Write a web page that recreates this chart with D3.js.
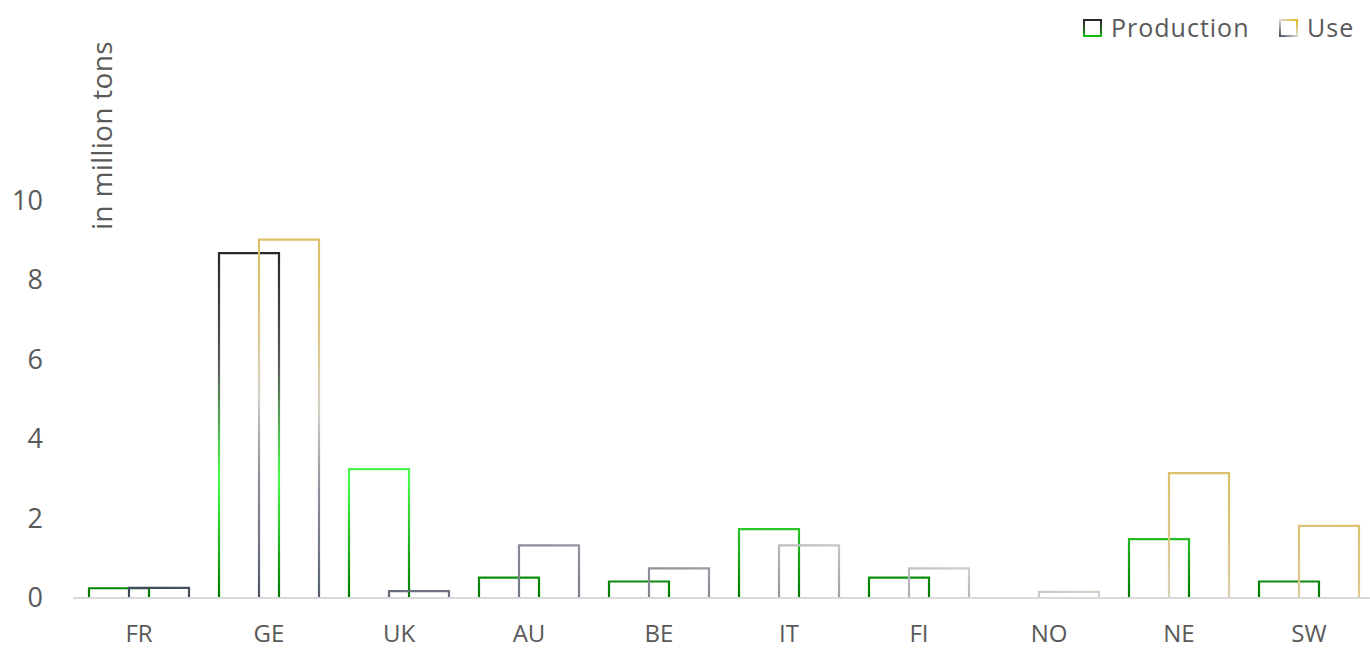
<!DOCTYPE html>
<html>
<head>
<meta charset="utf-8">
<script src="https://cdn.jsdelivr.net/npm/d3@7"></script>
<style>
  body { margin: 0; background: #fff; }
  svg { display: block; font-family: 'Open Sans', sans-serif; }
</style>
</head>
<body>
<svg id="chart" width="1370" height="650"></svg>
<script>
// data
const countries = ['FR', 'GE', 'UK', 'AU', 'BE', 'IT', 'FI', 'NO', 'NE', 'SW'];
const production = [0.22, 8.66, 3.22, 0.49, 0.39, 1.71, 0.49, 0, 1.46, 0.39];
const use = [0.23, 9.0, 0.15, 1.3, 0.72, 1.3, 0.72, 0.13, 3.12, 1.79];
const yTicks = [0, 2, 4, 6, 8, 10];

const textColor = '#595959';
const svg = d3.select('#chart');

const x = d3.scaleBand().domain(countries).range([75, 1375]);
const y = d3.scaleLinear().domain([0, 10]).range([597, 200]);
const barW = 60, shift = 40;

// gradients (Excel style gradient lines)
const defs = svg.append('defs');
const prodGrad = defs.append('linearGradient')
  .attr('id', 'prodGrad').attr('gradientUnits', 'userSpaceOnUse')
  .attr('x1', 0).attr('x2', 0).attr('y1', y(0)).attr('y2', y(8.8));
[[0, '#007a00'], [0.34, '#4cff4c'], [0.5, '#56a856'], [0.66, '#5c5c5c'], [1, '#262626']]
  .forEach(s => prodGrad.append('stop').attr('offset', s[0]).attr('stop-color', s[1]));

const useGrad = defs.append('linearGradient')
  .attr('id', 'useGrad').attr('gradientUnits', 'userSpaceOnUse')
  .attr('x1', 160).attr('y1', 592).attr('x2', 242).attr('y2', 248);
[[0, '#3f4a5a'], [0.17, '#6a7080'], [0.38, '#8c9099'], [0.56, '#c2c2c2'], [0.6, '#d4d1c9'], [0.68, '#d8cfb2'], [0.78, '#dcc88e'], [1, '#dcc06a']]
  .forEach(s => useGrad.append('stop').attr('offset', s[0]).attr('stop-color', s[1]));

const legProd = defs.append('linearGradient').attr('id', 'legProd').attr('x1', 0).attr('x2', 0).attr('y1', 1).attr('y2', 0);
[[0, '#10c010'], [0.3, '#207020'], [1, '#262626']]
  .forEach(s => legProd.append('stop').attr('offset', s[0]).attr('stop-color', s[1]));
const legUse = defs.append('linearGradient').attr('id', 'legUse').attr('x1', 0).attr('x2', 1).attr('y1', 1).attr('y2', 0);
[[0, '#4a5566'], [0.5, '#d8d8d8'], [1, '#e8b820']]
  .forEach(s => legUse.append('stop').attr('offset', s[0]).attr('stop-color', s[1]));

// y tick labels
svg.append('g').selectAll('text').data(yTicks).join('text')
  .attr('x', 43).attr('y', d => y(d) + 10)
  .attr('text-anchor', 'end')
  .attr('font-size', 27).attr('fill', textColor)
  .text(d => d);

// y title
svg.append('text')
  .attr('transform', `translate(112, 230) rotate(-90)`)
  .attr('font-size', 28).attr('fill', textColor)
  .attr('letter-spacing', 0.3)
  .text('in million tons');

// x axis line
svg.append('line')
  .attr('x1', 73).attr('x2', 1370)
  .attr('y1', y(0) + 1).attr('y2', y(0) + 1)
  .attr('stroke', '#d9d9d9').attr('stroke-width', 2);

// bars: open outlines, bottom edge hidden under axis
const barPath = (x0, v) => {
  const yt = y(v), yb = y(0);
  return `M${x0},${yb}V${yt}H${x0 + barW}V${yb}`;
};
const bars = svg.append('g').attr('fill', 'none').attr('stroke-width', 2.2);
bars.selectAll('path.prod').data(countries).join('path')
  .attr('class', 'prod')
  .attr('d', (c, i) => production[i] > 0 ? barPath(x(c) + 14, production[i]) : null)
  .attr('stroke', 'url(#prodGrad)');
bars.selectAll('path.use').data(countries).join('path')
  .attr('class', 'use')
  .attr('d', (c, i) => use[i] > 0 ? barPath(x(c) + 14 + shift, use[i]) : null)
  .attr('stroke', 'url(#useGrad)');

// x labels
svg.append('g').selectAll('text').data(countries).join('text')
  .attr('x', c => x(c) + x.bandwidth() / 2 - 1)
  .attr('y', 642)
  .attr('text-anchor', 'middle')
  .attr('font-size', 24).attr('fill', textColor)
  .text(c => c);

// legend
const legend = svg.append('g').attr('font-size', 25).attr('fill', textColor).attr('letter-spacing', 1);
const legItems = [['Production', 'url(#legProd)', 1084], ['Use', 'url(#legUse)', 1280]];
legItems.forEach(([label, stroke, lx]) => {
  legend.append('rect').attr('x', lx).attr('y', 20).attr('width', 17).attr('height', 16)
    .attr('fill', 'none').attr('stroke', stroke).attr('stroke-width', 2);
  legend.append('text').attr('x', lx + 27).attr('y', 37).text(label);
});
</script>
</body>
</html>
